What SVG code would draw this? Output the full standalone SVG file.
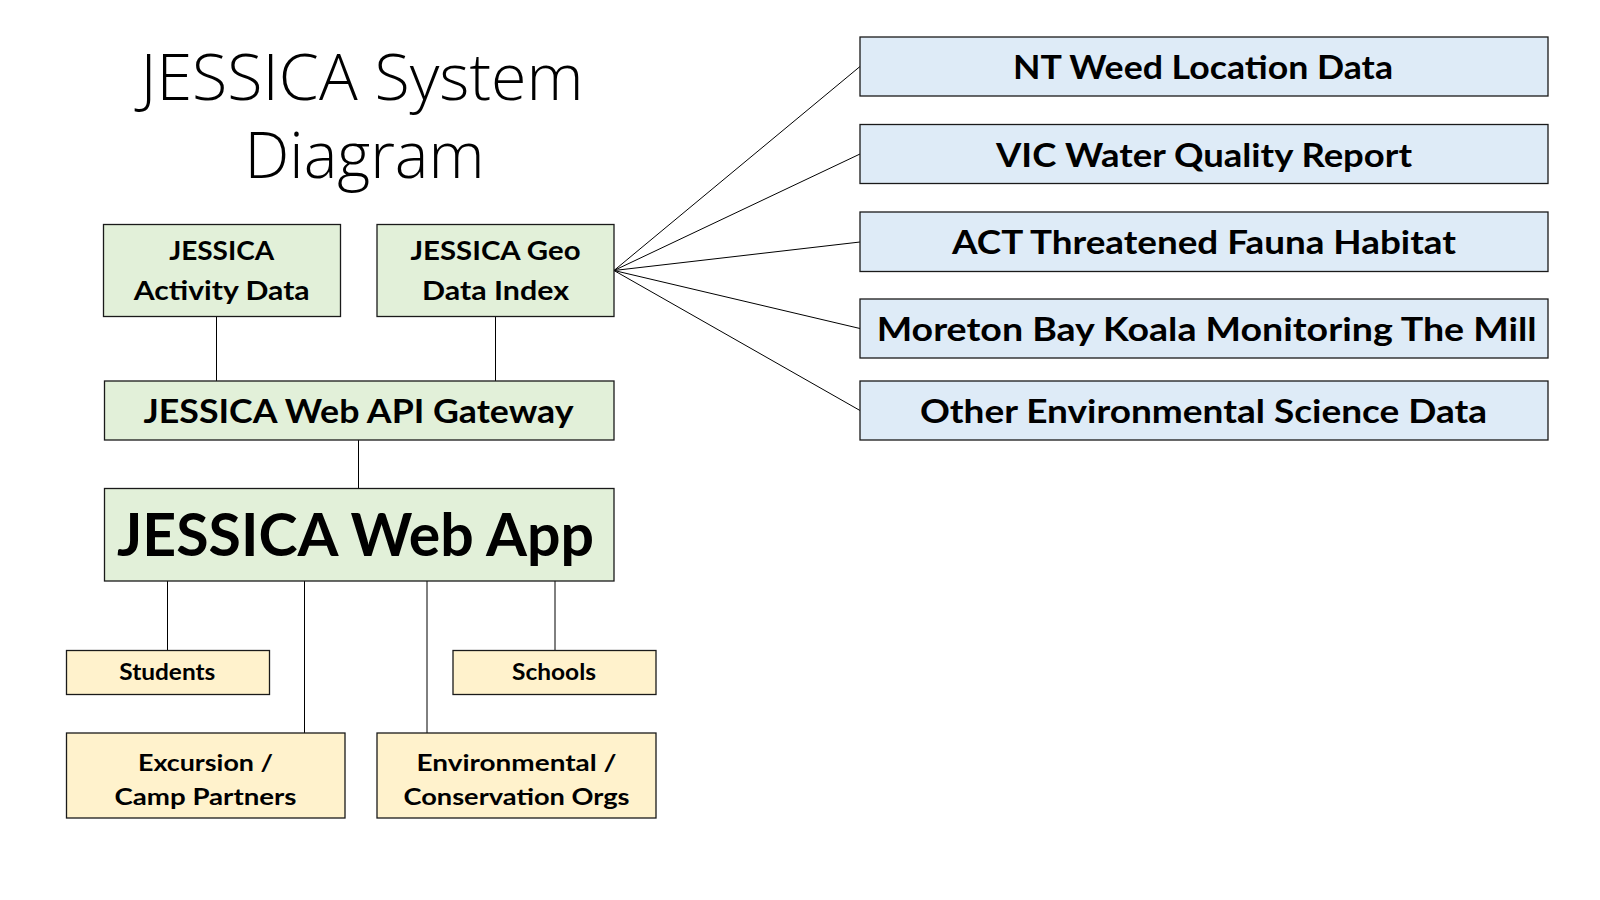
<svg xmlns="http://www.w3.org/2000/svg" width="1600" height="900" viewBox="0 0 1600 900">
<style>
.g{fill:#E2F0D9;stroke:#1a1a1a;stroke-width:1.3}
.b{fill:#DEEBF7;stroke:#1a1a1a;stroke-width:1.3}
.y{fill:#FFF2CC;stroke:#1a1a1a;stroke-width:1.3}
.t{font-family:Lato,"Liberation Sans",sans-serif;font-weight:700;fill:#000;text-anchor:middle}
.title{font-family:"Open Sans","Liberation Sans",sans-serif;font-weight:300;font-size:64px;fill:#000;text-anchor:middle}
.c line{stroke:#000;stroke-width:1}
</style>
<rect width="1600" height="900" fill="#fff"/>
<g id="title">
<text class="title" x="362" y="100" textLength="443" lengthAdjust="spacingAndGlyphs">JESSICA System</text>
<text class="title" x="364.5" y="178" textLength="240" lengthAdjust="spacingAndGlyphs">Diagram</text>
</g>
<g class="c" id="connectors">
<line x1="216.5" y1="316.5" x2="216.5" y2="381"/>
<line x1="495.5" y1="316.5" x2="495.5" y2="381"/>
<line x1="358.5" y1="440" x2="358.5" y2="488.5"/>
<line x1="167.5" y1="581" x2="167.5" y2="650.5"/>
<line x1="304.5" y1="581" x2="304.5" y2="733"/>
<line x1="427" y1="581" x2="427" y2="733"/>
<line x1="555" y1="581" x2="555" y2="650.5"/>
<line x1="614" y1="270.5" x2="860" y2="66.5"/>
<line x1="614" y1="270.5" x2="860" y2="154"/>
<line x1="614" y1="270.5" x2="860" y2="242"/>
<line x1="614" y1="270.5" x2="860" y2="328.5"/>
<line x1="614" y1="270.5" x2="860" y2="410.5"/>
</g>
<g id="activity">
<rect class="g" x="103.5" y="224.5" width="237" height="92"/>
<text class="t" x="221.7" y="260" font-size="26" textLength="105" lengthAdjust="spacingAndGlyphs">JESSICA</text>
<text class="t" x="221.7" y="299.5" font-size="26" textLength="176" lengthAdjust="spacingAndGlyphs">Activity Data</text>
</g>
<g id="geo">
<rect class="g" x="377" y="224.5" width="237" height="92"/>
<text class="t" x="495.5" y="260" font-size="26" textLength="170" lengthAdjust="spacingAndGlyphs">JESSICA Geo</text>
<text class="t" x="495.5" y="299.5" font-size="26" textLength="147" lengthAdjust="spacingAndGlyphs">Data Index</text>
</g>
<g id="gateway">
<rect class="g" x="104.5" y="381" width="509.5" height="59"/>
<text class="t" x="358.5" y="422.5" font-size="32.5" textLength="430" lengthAdjust="spacingAndGlyphs">JESSICA Web API Gateway</text>
</g>
<g id="webapp">
<rect class="g" x="104.5" y="488.5" width="509.5" height="92.5"/>
<text class="t" x="355.5" y="556" font-size="60" textLength="477" lengthAdjust="spacingAndGlyphs">JESSICA Web App</text>
</g>
<g id="students">
<rect class="y" x="66.5" y="650.5" width="203" height="44"/>
<text class="t" x="167.3" y="680" font-size="22" textLength="96" lengthAdjust="spacingAndGlyphs">Students</text>
</g>
<g id="schools">
<rect class="y" x="453" y="650.5" width="203" height="44"/>
<text class="t" x="554" y="680" font-size="22" textLength="84" lengthAdjust="spacingAndGlyphs">Schools</text>
</g>
<g id="excursion">
<rect class="y" x="66.5" y="733" width="278.5" height="85"/>
<text class="t" x="205.5" y="771" font-size="23.5" textLength="135" lengthAdjust="spacingAndGlyphs">Excursion /</text>
<text class="t" x="205.5" y="805" font-size="23.5" textLength="182" lengthAdjust="spacingAndGlyphs">Camp Partners</text>
</g>
<g id="environmental">
<rect class="y" x="377" y="733" width="279" height="85"/>
<text class="t" x="516.5" y="771" font-size="23.5" textLength="200" lengthAdjust="spacingAndGlyphs">Environmental /</text>
<text class="t" x="516.5" y="805" font-size="23.5" textLength="226" lengthAdjust="spacingAndGlyphs">Conservation Orgs</text>
</g>
<g id="nt">
<rect class="b" x="860" y="37" width="688" height="59"/>
<text class="t" x="1203" y="78.5" font-size="32.5" textLength="380" lengthAdjust="spacingAndGlyphs">NT Weed Location Data</text>
</g>
<g id="vic">
<rect class="b" x="860" y="124.5" width="688" height="59"/>
<text class="t" x="1204" y="166.5" font-size="32.5" textLength="416" lengthAdjust="spacingAndGlyphs">VIC Water Quality Report</text>
</g>
<g id="act">
<rect class="b" x="860" y="212" width="688" height="59.5"/>
<text class="t" x="1204" y="254" font-size="32.5" textLength="504" lengthAdjust="spacingAndGlyphs">ACT Threatened Fauna Habitat</text>
</g>
<g id="moreton">
<rect class="b" x="860" y="299" width="688" height="59"/>
<text class="t" x="1206.7" y="341" font-size="32.5" textLength="660" lengthAdjust="spacingAndGlyphs">Moreton Bay Koala Monitoring The Mill</text>
</g>
<g id="other">
<rect class="b" x="860" y="381" width="688" height="59"/>
<text class="t" x="1203.5" y="422.5" font-size="32.5" textLength="567" lengthAdjust="spacingAndGlyphs">Other Environmental Science Data</text>
</g>
</svg>
